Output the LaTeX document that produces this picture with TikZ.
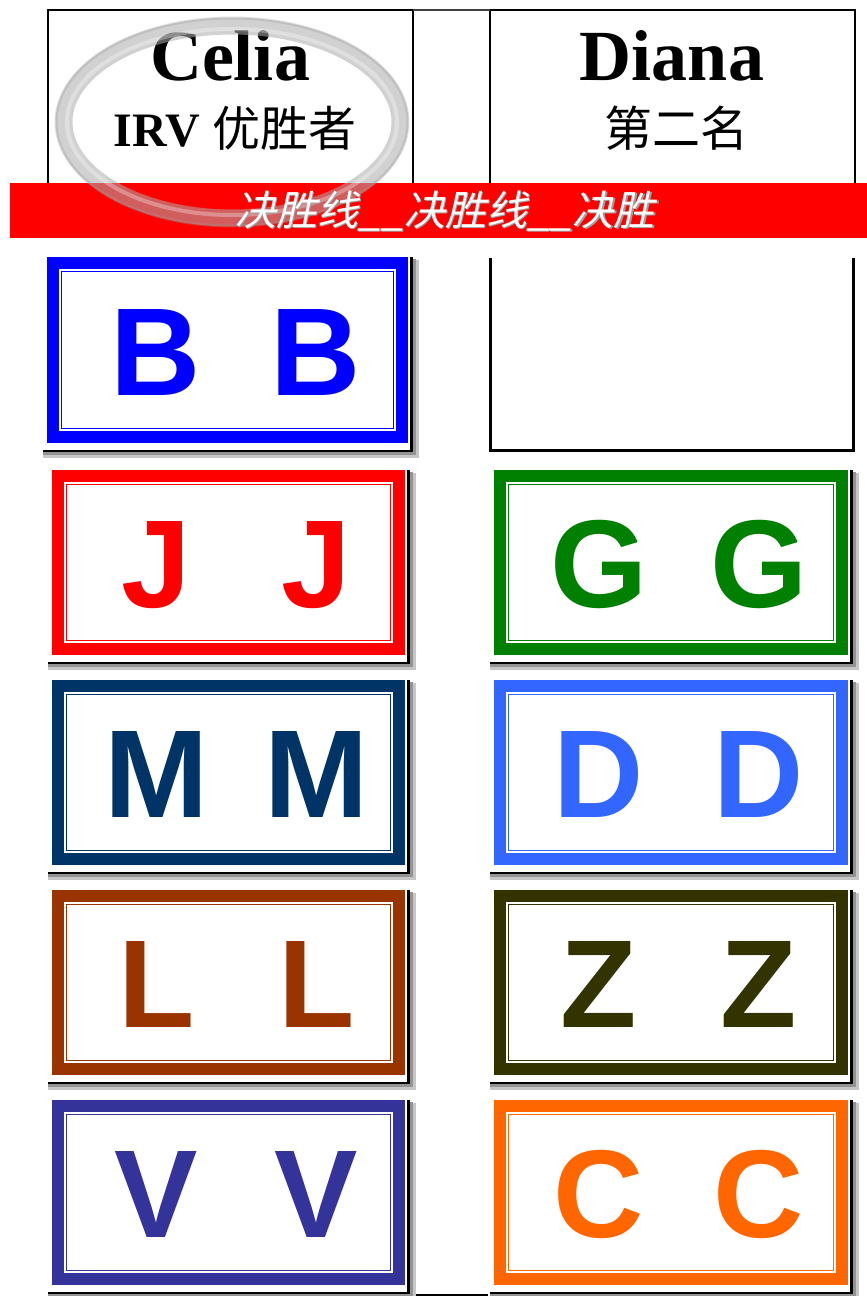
\documentclass[tikz,border=0pt]{standalone}
\usepackage{fontspec}
\setmainfont{Liberation Serif}
\setsansfont{Liberation Sans}
\newfontfamily\cjk{Noto Sans CJK SC}
\newfontfamily\cjkslant[FakeSlant=0.22]{Noto Sans CJK SC}
\usepackage{xcolor}
\usetikzlibrary{positioning}

\definecolor{cardB}{HTML}{0000FF}
\definecolor{cardJ}{HTML}{FF0000}
\definecolor{cardG}{HTML}{008000}
\definecolor{cardM}{HTML}{003366}
\definecolor{cardD}{HTML}{3366FF}
\definecolor{cardL}{HTML}{993300}
\definecolor{cardZ}{HTML}{333300}
\definecolor{cardV}{HTML}{333399}
\definecolor{cardC}{HTML}{FF6600}

\begin{document}
\begin{tikzpicture}[x=1pt, y=-1pt,
  cell/.style={draw=black, line width=2},
  personname/.style={font=\bfseries\fontsize{72}{72}\selectfont, inner sep=0, anchor=base},
  rank/.style={font=\bfseries\fontsize{48}{48}\selectfont, inner sep=0, anchor=base},
  band text/.style={font=\cjkslant\fontsize{41}{41}\selectfont, inner sep=0},
  letter/.style={font=\sffamily\bfseries\fontsize{125}{125}\selectfont, inner sep=0, anchor=base},
  ring/.style={draw=gray!65, line width=17, opacity=0.55}
]
  \useasboundingbox (0,0) rectangle (867,1296);

  % header cells
  \draw[cell] (48,183) -- (48,10) -- (413,10) -- (413,183);
  \draw[cell] (490,183) -- (490,10) -- (855,10) -- (855,183);
  \draw[line width=2, black!75] (413,10) -- (490,10);

  \node[personname] (celia) at (230,80) {Celia};
  \node[rank] (celiarank) at (235,146) {IRV {\mdseries\cjk 优胜者}};
  \node[personname] (diana) at (672,80) {Diana};
  \node[rank] (dianarank) at (676,146) {\mdseries\cjk 第二名};

  % red band
  \fill[red] (10,183) rectangle (867,238);

  % ring over the winner
  \draw[ring] (232,122) ellipse [x radius=168, y radius=96];
  \draw[gray!80, line width=3, opacity=0.3] (232,122) ellipse [x radius=176, y radius=104];
  \draw[white, line width=4, opacity=0.3] (232,122) ellipse [x radius=165, y radius=93];

  \node[band text, text=gray!75] (bandshadow) at (446.5,212.5) {决胜线\_\_决胜线\_\_决胜};
  \node[band text, text=white] (bandtext) at (445,211) {决胜线\_\_决胜线\_\_决胜};

  % empty box
  \draw[line width=3] (490,258) -- (490,450) -- (853,450) -- (853,258);

  % cards
  \foreach \cname/\cx/\cy/\w/\h/\col/\ltr in {
      B/47/257/361/186/cardB/B,
      J/52/470/353/185/cardJ/J, G/494/470/354/185/cardG/G,
      M/52/680/353/185/cardM/M, D/494/680/354/185/cardD/D,
      L/52/890/353/185/cardL/L, Z/494/890/354/185/cardZ/Z,
      V/52/1100/353/185/cardV/V, C/494/1100/354/185/cardC/C}{
    % shadow
    \draw[line width=3, gray!45] (\cx+\w+9.5,\cy+3) -- (\cx+\w+9.5,\cy+\h+13) -- (\cx-4,\cy+\h+13);
    \draw[line width=3, gray!85] (\cx+\w+6.5,\cy+2) -- (\cx+\w+6.5,\cy+\h+10.5) -- (\cx-4,\cy+\h+10.5);
    \draw[line width=2.5, black] (\cx+\w+3.5,\cy) -- (\cx+\w+3.5,\cy+\h+8) -- (\cx-4,\cy+\h+8);
    % frame
    \fill[\col] (\cx,\cy) rectangle ++(\w,\h);
    \fill[white] (\cx+12,\cy+12) rectangle (\cx+\w-12,\cy+\h-12);
    \draw[\col, line width=1.5] (\cx+14.5,\cy+14.5) rectangle (\cx+\w-14.5,\cy+\h-14.5);
    \node[letter, text=\col] (\cname-left) at (\cx+\w/2-72,\cy+\h/2+45) {\ltr};
    \node[letter, text=\col] (\cname-right) at (\cx+\w/2+88,\cy+\h/2+45) {\ltr};
  }

  % table remainder
  \draw[line width=3, gray!45] (414.5,1290) -- (414.5,1296);
  \draw[line width=2] (416,1295) -- (488,1295);
\end{tikzpicture}
\end{document}
